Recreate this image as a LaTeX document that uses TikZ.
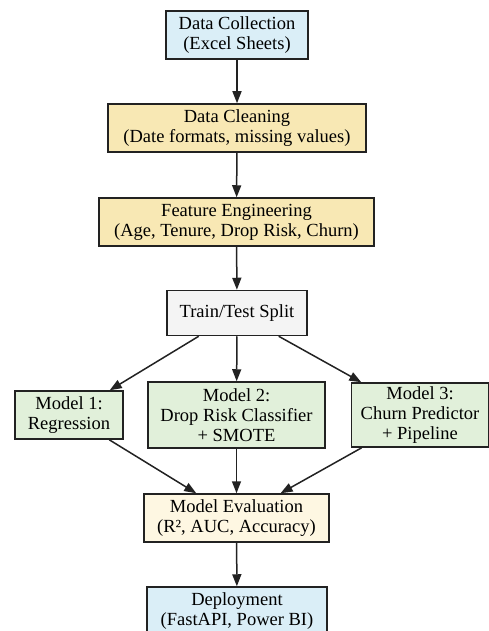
\documentclass[tikz,border=0pt]{standalone}
\usepackage{fontspec}
\setmainfont{Liberation Serif}
\usetikzlibrary{arrows.meta}
\definecolor{bluef}{HTML}{DAEEF7}
\definecolor{yelf}{HTML}{F8E8B4}
\definecolor{grnf}{HTML}{E1F0DA}
\definecolor{evf}{HTML}{FEF7E2}
\definecolor{grf}{HTML}{F4F4F4}
\definecolor{edge}{HTML}{222222}
\begin{document}
\begin{tikzpicture}[x=1pt,y=-1pt,
  box/.style={draw=edge,line width=1.5pt,inner sep=0pt,align=center,
    font=\rmfamily\fontsize{18.5}{20}\selectfont,text=black},
  conn/.style={draw=edge,line width=1.5pt,-{Triangle[length=12pt,width=9pt]}}]
\useasboundingbox (0,0) rectangle (489,631);
\node[box,fill=bluef,minimum width=142,minimum height=48] (dc) at (237,35) {Data Collection\\(Excel Sheets)};
\node[box,fill=yelf,minimum width=258,minimum height=48] (cl) at (237,128) {Data Cleaning\\(Date formats, missing values)};
\node[box,fill=yelf,minimum width=275,minimum height=48] (fe) at (236.5,222) {Feature Engineering\\(Age, Tenure, Drop Risk, Churn)};
\node[box,fill=grf,minimum width=140,minimum height=45] (tt) at (237,313) {Train/Test Split};
\node[box,fill=grnf,minimum width=108,minimum height=48] (m1) at (69,415) {Model 1:\\Regression};
\node[box,fill=grnf,minimum width=177,minimum height=66] (m2) at (236.5,415) {Model 2:\\Drop Risk Classifier\\+ SMOTE};
\node[box,fill=grnf,minimum width=137,minimum height=64] (m3) at (420,415) {Model 3:\\Churn Predictor\\+ Pipeline};
\node[box,fill=evf,minimum width=185,minimum height=48] (ev) at (236.5,518) {Model Evaluation\\(R², AUC, Accuracy)};
\node[box,fill=bluef,minimum width=180,minimum height=48] (dp) at (237,611) {Deployment\\(FastAPI, Power BI)};
\draw[conn] (dc) -- (cl);
\draw[conn] (cl) -- (fe);
\draw[conn] (fe) -- (tt);
\draw[conn] (tt) -- (m1);
\draw[conn] (tt) -- (m2);
\draw[conn] (tt) -- (m3);
\draw[conn] (m1) -- (ev);
\draw[conn] (m2) -- (ev);
\draw[conn] (m3) -- (ev);
\draw[conn] (ev) -- (dp);
\end{tikzpicture}
\end{document}
